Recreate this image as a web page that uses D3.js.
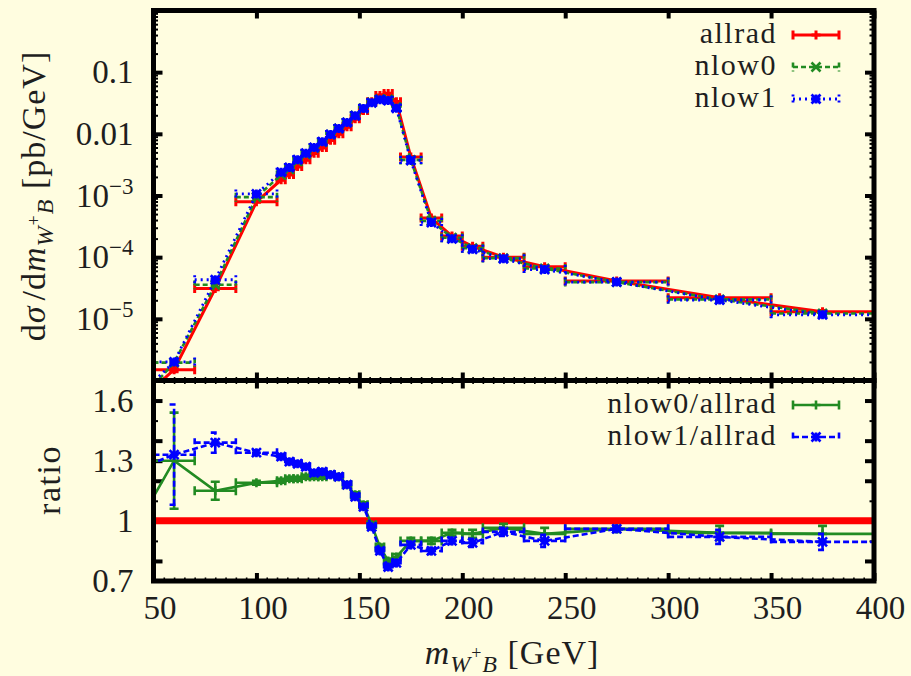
<!DOCTYPE html>
<html><head><meta charset="utf-8">
<script src="https://cdn.jsdelivr.net/npm/d3@7"></script>
<style>
html,body{margin:0;padding:0;background:#fffde0;}
svg{display:block;}
svg text{font-family:"Liberation Serif","Times New Roman",Times,"DejaVu Serif",serif !important;fill:#1e1e1e;}
</style></head><body>
<svg id="chart" width="911" height="676"></svg>
<script>
// Histogram bins in m_{W+B} [GeV]
const binCenter = [40,60,80,100,112,116,120,124,128,132,136,140,144,148,152,156,160,164,168,175,185,195,205,220,240,275,325,375];
const binLo     = [30,50,70,90,110,114,118,122,126,130,134,138,142,146,150,154,158,162,166,170,180,190,200,210,230,250,300,350];
const binHi     = [50,70,90,110,114,118,122,126,130,134,138,142,146,150,154,158,162,166,170,180,190,200,210,230,250,300,350,400];

// dsigma/dm [pb/GeV]
const allrad = [3.7e-7,1.5e-6,3.1e-5,7.9e-4,1.8e-3,2.2e-3,2.95e-3,3.8e-3,4.85e-3,6.0e-3,7.9e-3,1.0e-2,1.3e-2,1.75e-2,2.4e-2,3.3e-2,4.2e-2,4.5e-2,3.3e-2,4.2e-3,4.3e-4,2.2e-4,1.5e-4,1.0e-4,7.0e-5,4.1e-5,2.2e-5,1.3e-5];
const nlow0  = [3.5e-7,1.95e-6,3.57e-5,9.4e-4,2.16e-3,2.66e-3,3.57e-3,4.64e-3,5.92e-3,7.32e-3,9.72e-3,1.22e-2,1.53e-2,1.98e-2,2.59e-2,3.23e-2,3.65e-2,3.6e-2,2.7e-2,3.78e-3,3.87e-4,2.07e-4,1.4e-4,9.65e-5,6.55e-5,3.94e-5,2.07e-5,1.22e-5];
const nlow1  = [4.6e-7,2.0e-6,4.3e-5,1.06e-3,2.38e-3,2.85e-3,3.79e-3,4.83e-3,6.01e-3,7.47e-3,9.72e-3,1.22e-2,1.53e-2,1.96e-2,2.57e-2,3.2e-2,3.57e-2,3.47e-2,2.6e-2,3.7e-3,3.66e-4,1.98e-4,1.34e-4,9.45e-5,6.3e-5,3.94e-5,2.02e-5,1.16e-5];
// relative statistical uncertainties
const allradRelErr = [0.12,0.08,0.04,0.02,0.02,0.02,0.015,0.015,0.015,0.015,0.015,0.015,0.015,0.015,0.015,0.015,0.015,0.015,0.015,0.02,0.03,0.03,0.03,0.03,0.04,0.03,0.04,0.05];
const nlow0RelErr  = [0.12,0.08,0.04,0.02,0.02,0.02,0.015,0.015,0.015,0.015,0.015,0.015,0.015,0.015,0.015,0.015,0.015,0.015,0.015,0.02,0.03,0.03,0.03,0.03,0.04,0.03,0.04,0.05];
const nlow1RelErr  = [0.12,0.08,0.04,0.02,0.02,0.02,0.015,0.015,0.015,0.015,0.015,0.015,0.015,0.015,0.015,0.015,0.015,0.015,0.015,0.02,0.03,0.03,0.03,0.03,0.04,0.03,0.04,0.05];

// ratios to allrad
const ratio0    = [0.94,1.30,1.15,1.19,1.20,1.21,1.21,1.22,1.22,1.22,1.23,1.22,1.18,1.13,1.08,0.98,0.87,0.80,0.82,0.90,0.90,0.94,0.935,0.965,0.935,0.96,0.94,0.935];
const ratio0Err = [0.2,0.24,0.045,0.01,0.01,0.01,0.01,0.01,0.01,0.01,0.01,0.01,0.01,0.012,0.012,0.012,0.012,0.012,0.015,0.015,0.015,0.015,0.02,0.02,0.03,0.015,0.035,0.04];
const ratio1    = [1.25,1.33,1.39,1.34,1.32,1.295,1.285,1.27,1.24,1.245,1.23,1.22,1.18,1.12,1.07,0.97,0.85,0.77,0.79,0.88,0.85,0.90,0.89,0.945,0.90,0.96,0.92,0.895];
const ratio1Err = [0.2,0.25,0.05,0.012,0.012,0.012,0.012,0.012,0.012,0.012,0.012,0.012,0.012,0.012,0.012,0.012,0.012,0.012,0.015,0.015,0.015,0.015,0.02,0.02,0.03,0.015,0.035,0.04];

// axis ticks
const xTicks = [50,100,150,200,250,300,350,400];
const xMinorTicks = d3.range(55,400,5).filter(v => v % 50 !== 0);
const yTopTicks = [1e-5,1e-4,1e-3,0.01,0.1];
const yTopLabels = [["10","−5"],["10","−4"],["10","−3"],["0.01",""],["0.1",""]];
const yRatioLabels = [0.7,1,1.3,1.6];
const yRatioMajor = [0.8,1.0,1.2,1.3,1.4,1.6];
const yRatioMinor = [0.9,1.1,1.5];

const FONT = "'Liberation Serif','Times New Roman',Times,'DejaVu Serif',serif";
const svg = d3.select("#chart");
const L = 153.5, R = 874, T = 10.5, M = 380.5, B = 581;
const x = d3.scaleLinear().domain([50,400]).range([L,R]);
const yTop = d3.scaleLog().domain([1e-6,1]).range([M,T]);
const yRat = d3.scaleLinear().domain([0.7,1.7]).range([B,M]);

const defs = svg.append("defs");
defs.append("clipPath").attr("id","clipTop").append("rect").attr("x",L).attr("y",T).attr("width",R-L).attr("height",M-T);
defs.append("clipPath").attr("id","clipRat").append("rect").attr("x",L).attr("y",M).attr("width",R-L).attr("height",B-M);

// minor log ticks (2..9 per decade)
const yTopMinor = [];
for (let e = -6; e < 0; e++) for (let k = 2; k <= 9; k++) yTopMinor.push(k * Math.pow(10, e));

function styleAxis(g, w) {
  g.attr("font-family", FONT);
  g.select(".domain").remove();
  g.selectAll(".tick line").attr("stroke","#000").attr("stroke-width",w);
}

// ---- top panel axes ----
const gTop = svg.append("g");
gTop.append("g").attr("transform",`translate(${L},0)`)
  .call(d3.axisLeft(yTop).tickValues(yTopMinor).tickSize(-4.5).tickFormat(""))
  .call(g => styleAxis(g,2));
gTop.append("g").attr("transform",`translate(${R},0)`)
  .call(d3.axisRight(yTop).tickValues(yTopMinor).tickSize(-4.5).tickFormat(""))
  .call(g => styleAxis(g,2));
gTop.append("g").attr("transform",`translate(${R},0)`)
  .call(d3.axisRight(yTop).tickValues(yTopTicks).tickSize(-9).tickFormat(""))
  .call(g => styleAxis(g,4));
const leftTop = gTop.append("g").attr("transform",`translate(${L},0)`)
  .call(d3.axisLeft(yTop).tickValues(yTopTicks).tickSize(-9).tickPadding(20))
  .call(g => styleAxis(g,4));
leftTop.selectAll(".tick text").each(function(d,i){
  const t = d3.select(this).text("").attr("font-size",33).attr("fill","#1e1e1e");
  t.append("tspan").text(yTopLabels[i][0]);
  if (yTopLabels[i][1]) t.append("tspan").attr("font-size",23).attr("dy",-13).text(yTopLabels[i][1]);
});
gTop.append("g").attr("transform",`translate(0,${T})`)
  .call(d3.axisTop(x).tickValues(xTicks).tickSize(-8).tickFormat(""))
  .call(g => styleAxis(g,4));
gTop.append("g").attr("transform",`translate(0,${M})`)
  .call(d3.axisBottom(x).tickValues(xTicks).tickSize(-8).tickFormat(""))
  .call(g => styleAxis(g,4));
gTop.append("g").attr("transform",`translate(0,${M})`)
  .call(d3.axisBottom(x).tickValues(xMinorTicks).tickSize(-3.5).tickFormat(""))
  .call(g => styleAxis(g,1.6));

// ---- ratio panel axes ----
const gRat = svg.append("g");
[[L,d3.axisLeft],[R,d3.axisRight]].forEach(([px,ax]) => {
  gRat.append("g").attr("transform",`translate(${px},0)`)
    .call(ax(yRat).tickValues(yRatioMajor).tickSize(-9).tickFormat(""))
    .call(g => styleAxis(g,4));
  gRat.append("g").attr("transform",`translate(${px},0)`)
    .call(ax(yRat).tickValues(yRatioMinor).tickSize(-4.5).tickFormat(""))
    .call(g => styleAxis(g,2));
});
gRat.append("g").attr("transform",`translate(${L},0)`)
  .call(d3.axisLeft(yRat).tickValues(yRatioLabels).tickSize(0).tickPadding(20).tickFormat(d3.format("")))
  .call(g => { g.attr("font-family", FONT); g.select(".domain").remove();
    g.selectAll(".tick text").attr("font-size",33).attr("fill","#1e1e1e"); });
gRat.append("g").attr("transform",`translate(0,${M})`)
  .call(d3.axisTop(x).tickValues(xTicks).tickSize(-8).tickFormat(""))
  .call(g => styleAxis(g,4));
gRat.append("g").attr("transform",`translate(0,${M})`)
  .call(d3.axisTop(x).tickValues(xMinorTicks).tickSize(-3.5).tickFormat(""))
  .call(g => styleAxis(g,1.6));
gRat.append("g").attr("transform",`translate(0,${B})`)
  .call(d3.axisBottom(x).tickValues(xMinorTicks).tickSize(-3.5).tickFormat(""))
  .call(g => styleAxis(g,1.6));
const bottomAx = gRat.append("g").attr("transform",`translate(0,${B})`)
  .call(d3.axisBottom(x).tickValues(xTicks).tickSize(-8).tickFormat(d3.format("")))
  .call(g => styleAxis(g,4));
bottomAx.selectAll(".tick text").attr("font-size",33).attr("fill","#1e1e1e")
  .attr("y",38).attr("dy",0).attr("dx",6);

// ---- markers ----
function markerPath(kind, r) {
  const plus = `M${-r},0H${r}M0,${-r}V${r}`;
  const cross = `M${-r},${-r}L${r},${r}M${-r},${r}L${r},${-r}`;
  if (kind === "plus") return plus;
  if (kind === "cross") return cross;
  return plus + cross;
}

// xy error lines: connecting line, x bars with caps, y bars with caps, marker
function drawSeries(g, ys, vals, lo, hi, color, dash, width, marker) {
  const s = g.append("g").attr("fill","none").attr("stroke",color).attr("stroke-width",width);
  const pts = binCenter.map((c,i) => [x(c), ys(vals[i])]);
  s.append("path").attr("d", d3.line()(pts)).attr("stroke-dasharray", dash);
  binCenter.forEach((c,i) => {
    const px = x(c), py = ys(vals[i]);
    const x0 = x(binLo[i]), x1 = x(binHi[i]);
    const yl = ys(lo[i]), yh = ys(hi[i]);
    const cap = 4.5;
    const d = `M${x0},${py}H${x1}M${x0},${py-cap}V${py+cap}M${x1},${py-cap}V${py+cap}` +
              `M${px},${yl}V${yh}M${px-cap},${yl}H${px+cap}M${px-cap},${yh}H${px+cap}`;
    s.append("path").attr("d", d).attr("stroke-dasharray", dash);
    s.append("path").attr("d", markerPath(marker, 4.5)).attr("transform",`translate(${px},${py})`);
  });
}

const red = "#ff0000", green = "#228b22", blue = "#0000ff";

const topData = svg.append("g").attr("clip-path","url(#clipTop)");
drawSeries(topData, yTop, allrad, allrad.map((v,i)=>v*(1-allradRelErr[i])), allrad.map((v,i)=>v*(1+allradRelErr[i])), red, null, 3, "plus");
drawSeries(topData, yTop, nlow0, nlow0.map((v,i)=>v*(1-nlow0RelErr[i])), nlow0.map((v,i)=>v*(1+nlow0RelErr[i])), green, "5,3", 2.6, "cross");
drawSeries(topData, yTop, nlow1, nlow1.map((v,i)=>v*(1-nlow1RelErr[i])), nlow1.map((v,i)=>v*(1+nlow1RelErr[i])), blue, "2,4", 2.8, "star");

const ratData = svg.append("g").attr("clip-path","url(#clipRat)");
ratData.append("line").attr("x1",L).attr("x2",R).attr("y1",yRat(1)).attr("y2",yRat(1))
  .attr("stroke",red).attr("stroke-width",7);
drawSeries(ratData, yRat, ratio0, ratio0.map((v,i)=>v-ratio0Err[i]), ratio0.map((v,i)=>v+ratio0Err[i]), green, null, 2.6, "plus");
drawSeries(ratData, yRat, ratio1, ratio1.map((v,i)=>v-ratio1Err[i]), ratio1.map((v,i)=>v+ratio1Err[i]), blue, "6,3", 2.6, "star");

// ---- frames ----
svg.append("rect").attr("x",L).attr("y",T).attr("width",R-L).attr("height",M-T)
  .attr("fill","none").attr("stroke","#000").attr("stroke-width",5);
svg.append("rect").attr("x",L).attr("y",M).attr("width",R-L).attr("height",B-M)
  .attr("fill","none").attr("stroke","#000").attr("stroke-width",5);

// ---- legends ----
function legend(entries, y0, step) {
  entries.forEach((e,i) => {
    const by = y0 + i*step;
    svg.append("text").attr("x",777).attr("y",by).attr("text-anchor","end")
      .attr("font-family", FONT).attr("font-size",30).attr("letter-spacing",1.5).text(e.label);
    const sy = by - 8, a = 793, b = 839, m = (a+b)/2;
    const g = svg.append("g").attr("fill","none").attr("stroke",e.color).attr("stroke-width",e.w);
    g.append("path").attr("d",`M${a},${sy}H${b}M${a},${sy-4.5}V${sy+4.5}M${b},${sy-4.5}V${sy+4.5}`)
      .attr("stroke-dasharray",e.dash);
    g.append("path").attr("d",markerPath(e.marker,4.5)).attr("transform",`translate(${m},${sy})`);
  });
}
legend([
  {label:"allrad", color:red, dash:null, w:3, marker:"plus"},
  {label:"nlow0", color:green, dash:"5,3", w:2.6, marker:"cross"},
  {label:"nlow1", color:blue, dash:"2,4", w:2.8, marker:"star"}
], 43, 32);
legend([
  {label:"nlow0/allrad", color:green, dash:null, w:2.6, marker:"plus"},
  {label:"nlow1/allrad", color:blue, dash:"6,3", w:2.6, marker:"star"}
], 413, 32);

// ---- axis titles ----
const yt = svg.append("text").attr("transform","translate(45,196) rotate(-90)")
  .attr("text-anchor","middle").attr("font-family", FONT).attr("font-size",34).attr("letter-spacing",1);
yt.append("tspan").text("d");
yt.append("tspan").attr("font-style","italic").text("σ");
yt.append("tspan").attr("dx",5).text("/d");
yt.append("tspan").attr("font-style","italic").text("m");
yt.append("tspan").attr("font-style","italic").attr("font-size",24).attr("dy",8).text("W");
yt.append("tspan").attr("font-size",18).attr("dy",-13).text("+");
yt.append("tspan").attr("font-style","italic").attr("font-size",24).attr("dy",13).text("B");
yt.append("tspan").attr("dy",-8).text(" [pb/GeV]");

svg.append("text").attr("transform","translate(60,480) rotate(-90)")
  .attr("text-anchor","middle").attr("font-family", FONT).attr("font-size",34).attr("letter-spacing",1.5).text("ratio");

const xt = svg.append("text").attr("x",512).attr("y",664)
  .attr("text-anchor","middle").attr("font-family", FONT).attr("font-size",34).attr("letter-spacing",1);
xt.append("tspan").attr("font-style","italic").text("m");
xt.append("tspan").attr("font-style","italic").attr("font-size",24).attr("dy",8).text("W");
xt.append("tspan").attr("font-size",18).attr("dy",-13).text("+");
xt.append("tspan").attr("font-style","italic").attr("font-size",24).attr("dy",13).text("B");
xt.append("tspan").attr("dy",-8).text(" [GeV]");
</script>
</body></html>
